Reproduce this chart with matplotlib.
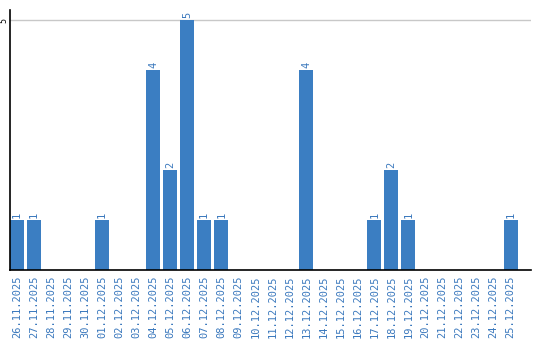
import matplotlib
matplotlib.use("Agg")
import matplotlib.pyplot as plt

dates = ["26.11.2025", "27.11.2025", "28.11.2025", "29.11.2025", "30.11.2025",
         "01.12.2025", "02.12.2025", "03.12.2025", "04.12.2025", "05.12.2025",
         "06.12.2025", "07.12.2025", "08.12.2025", "09.12.2025", "10.12.2025",
         "11.12.2025", "12.12.2025", "13.12.2025", "14.12.2025", "15.12.2025",
         "16.12.2025", "17.12.2025", "18.12.2025", "19.12.2025", "20.12.2025",
         "21.12.2025", "22.12.2025", "23.12.2025", "24.12.2025", "25.12.2025"]
counts = [1, 1, 0, 0, 0, 1, 0, 0, 4, 2, 5, 1, 1, 0, 0, 0, 0, 4, 0, 0,
          0, 1, 2, 1, 0, 0, 0, 0, 0, 1]

blue = "#3b7ec2"
txt = "#3a78bd"

fig = plt.figure(figsize=(5.4, 3.4), dpi=100)
ax = fig.add_axes([10/540, 70/340, 521/540, 260/340])

x = list(range(len(dates)))
ax.bar(x, counts, width=0.82, color=blue, zorder=2)
ax.axhline(5, color="#c8c8c8", lw=1, zorder=1)

for xi, v in zip(x, counts):
    if v > 0:
        ax.text(xi, v + 0.04, str(v), rotation=90, ha="center", va="bottom",
                color=txt, fontsize=7.5, family="DejaVu Sans Mono")

ax.set_xlim(-0.41, 30.2)
ax.set_ylim(0, 5.2)
ax.set_yticks([5])
ax.set_yticklabels(["5"], rotation=90, va="center", fontsize=6,
                   family="DejaVu Sans Mono")
ax.tick_params(axis="y", length=0, pad=1.5)
ax.set_xticks(x)
ax.set_xticklabels(dates, rotation=90, fontsize=7.5, color=txt,
                   family="DejaVu Sans Mono")
ax.tick_params(axis="x", length=0, pad=4)

for s in ["top", "right"]:
    ax.spines[s].set_visible(False)
ax.spines["left"].set_linewidth(1.2)
ax.spines["bottom"].set_linewidth(1.2)

fig.savefig("out.png", dpi=100)
